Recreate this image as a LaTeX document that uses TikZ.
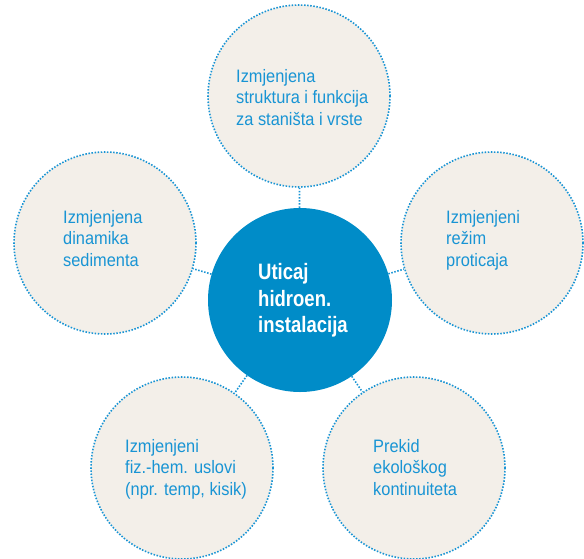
\documentclass[tikz,border=0pt]{standalone}
\usepackage{fontspec}
\setmainfont{Liberation Sans}[FakeStretch=0.91,BoldFeatures={FakeStretch=0.83}]
\definecolor{hubblue}{RGB}{0,140,200}
\definecolor{dotblue}{RGB}{24,148,212}
\definecolor{paper}{RGB}{243,239,233}

\begin{document}
\begin{tikzpicture}[x=1pt,y=-1pt,
			outer/.style={
				circle,
				draw=dotblue,
				fill=paper,
				line width=1.6pt,
				dash pattern=on 1.5pt off 1.6pt,
				minimum size=182pt,
				inner sep=0pt,
			},
			hub/.style={
				circle,
				fill=hubblue,
				minimum size=184pt,
				inner sep=0pt,
			},
			txt/.style={
				align=left,
				anchor=north west,
				inner sep=0pt,
				text=dotblue,
				font=\fontsize{18}{21.7}\selectfont,
			},
			hubtxt/.style={
				align=left,
				anchor=north west,
				inner sep=0pt,
				text=white,
				font=\fontsize{22.3}{26.7}\selectfont\bfseries,
			},
			link/.style={
				draw=dotblue,
				line width=1.6pt,
				dash pattern=on 1.5pt off 1.6pt,
			}]
		\useasboundingbox (0,0) rectangle (584,558);
		\node[outer](struktura)   at (299,96)  {};
		\node[outer](sediment)    at (105,243) {};
		\node[outer](rezim)       at (492,243) {};
		\node[outer](fizhem)      at (182,468) {};
		\node[outer](kontinuitet) at (414,468) {};
		\node[hub](uticaj)        at (300,300) {};
		\path (uticaj) edge[link] (struktura);
		\path (uticaj) edge[link] (sediment);
		\path (uticaj) edge[link] (rezim);
		\path (uticaj) edge[link] (fizhem);
		\path (uticaj) edge[link] (kontinuitet);
		\node[txt](strukturatxt)   at (236,69)  {Izmjenjena\\struktura i funkcija\\za staništa i vrste};
		\node[txt](sedimenttxt)    at (63,210)  {Izmjenjena\\dinamika\\sedimenta};
		\node[txt](rezimtxt)       at (446,210) {Izmjenjeni\\režim\\proticaja};
		\node[txt](fizhemtxt)      at (125,439) {Izmjenjeni\\fiz.-hem. uslovi\\(npr. temp, kisik)};
		\node[txt](kontinuitettxt) at (373,439) {Prekid\\ekološkog\\kontinuiteta};
		\node[hubtxt](uticajtxt)   at (258,263) {Uticaj\\hidroen.\\instalacija};
	\end{tikzpicture}
\end{document}
